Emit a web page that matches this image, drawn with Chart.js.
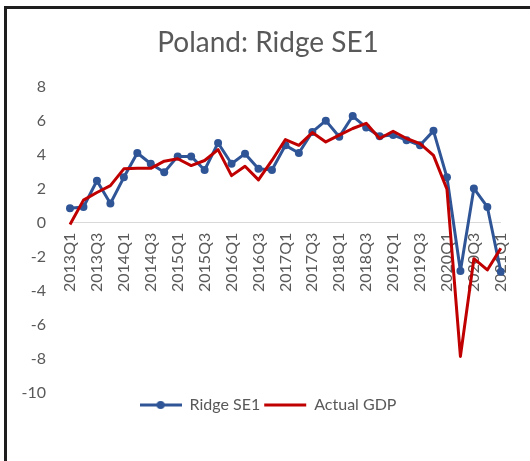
<!DOCTYPE html>
<html>
<head>
<meta charset="utf-8">
<script src="https://cdn.jsdelivr.net/npm/chart.js@4/dist/chart.umd.min.js"></script>
<style>
  body { margin: 0; background: #fff; }
  #wrap { position: relative; width: 530px; height: 461px; }
  #frame {
    position: absolute; left: 4px; top: 6px; right: 0; bottom: 0;
    border-left: 3px solid #1e1e1e; border-top: 3px solid #1e1e1e;
    pointer-events: none;
  }
</style>
</head>
<body>
<div id="wrap">
  <canvas id="chart" width="530" height="461"></canvas>
  <div id="frame"></div>
</div>
<script>
const quarters = [
  '2013Q1', '2013Q2', '2013Q3', '2013Q4',
  '2014Q1', '2014Q2', '2014Q3', '2014Q4',
  '2015Q1', '2015Q2', '2015Q3', '2015Q4',
  '2016Q1', '2016Q2', '2016Q3', '2016Q4',
  '2017Q1', '2017Q2', '2017Q3', '2017Q4',
  '2018Q1', '2018Q2', '2018Q3', '2018Q4',
  '2019Q1', '2019Q2', '2019Q3', '2019Q4',
  '2020Q1', '2020Q2', '2020Q3', '2020Q4',
  '2021Q1'
];

const ridgeSE1 = [
  0.85, 0.93, 2.47, 1.13,
  2.67, 4.1, 3.47, 2.97,
  3.9, 3.9, 3.1, 4.69,
  3.47, 4.06, 3.17, 3.1,
  4.55, 4.1, 5.34, 6.0,
  5.05, 6.27, 5.6, 5.09,
  5.15, 4.85, 4.55, 5.4,
  2.67, -2.83, 2.02, 0.93,
  -2.87
];

const actualGDP = [
  -0.1, 1.33, 1.78, 2.18,
  3.17, 3.2, 3.2, 3.62,
  3.76, 3.36, 3.66, 4.3,
  2.77, 3.32, 2.52, 3.66,
  4.89, 4.55, 5.3, 4.75,
  5.15, 5.54, 5.84, 4.95,
  5.38, 4.95, 4.65, 3.96,
  1.98, -7.85, -2.11, -2.77,
  -1.5
];

const blue = '#2f5597';
const red = '#c00000';
const grey = '#595959';

// legend marker: line with a dot in the middle
const blueMarker = document.createElement('canvas');
blueMarker.width = 42;
blueMarker.height = 10;
const mctx = blueMarker.getContext('2d');
mctx.strokeStyle = blue;
mctx.lineWidth = 3;
mctx.beginPath();
mctx.moveTo(0, 5);
mctx.lineTo(42, 5);
mctx.stroke();
mctx.fillStyle = blue;
mctx.beginPath();
mctx.arc(21, 5, 4, 0, Math.PI * 2);
mctx.fill();

const ctx = document.getElementById('chart').getContext('2d');

new Chart(ctx, {
  type: 'line',
  data: {
    labels: quarters,
    datasets: [
      {
        label: 'Ridge SE1',
        data: ridgeSE1,
        borderColor: blue,
        backgroundColor: blue,
        borderWidth: 3,
        borderJoinStyle: 'round',
        pointRadius: 4,
        pointBorderWidth: 0,
        tension: 0,
        order: 1,
      },
      {
        label: 'Actual GDP',
        data: actualGDP,
        borderColor: red,
        backgroundColor: red,
        borderWidth: 3,
        borderJoinStyle: 'round',
        pointRadius: 0,
        tension: 0,
        order: 0,
      },
    ],
  },
  options: {
    responsive: false,
    animation: false,
    layout: { padding: { left: 6, right: 0, top: 0, bottom: 38 } },
    plugins: {
      tooltip: { enabled: false },
      title: {
        display: true,
        text: 'Poland: Ridge SE1',
        color: grey,
        font: { family: 'Lato', size: 28, weight: 'normal', lineHeight: 1.2 },
        padding: { top: 26, bottom: 27 },
      },
      legend: {
        position: 'bottom',
        labels: {
          usePointStyle: true,
          pointStyleWidth: 42,
          padding: 4,
          color: grey,
          font: { family: 'Lato', size: 16 },
          generateLabels(chart) {
            return chart.data.datasets.map((ds, i) => ({
              text: ds.label,
              datasetIndex: i,
              fontColor: grey,
              pointStyle: i === 0 ? blueMarker : 'line',
              strokeStyle: ds.borderColor,
              fillStyle: ds.borderColor,
              lineWidth: 3,
              hidden: false,
            }));
          },
        },
      },
    },
    scales: {
      x: {
        position: { y: 0 },
        grid: { display: false, drawTicks: false },
        border: { display: true, color: '#d9d9d9', width: 1 },
        ticks: {
          autoSkip: false,
          minRotation: 90,
          maxRotation: 90,
          padding: 10,
          color: grey,
          font: { family: 'Lato', size: 16 },
          callback(value, index) {
            return index % 2 === 0 ? quarters[index] : '';
          },
        },
      },
      y: {
        min: -10,
        max: 8,
        grid: { display: false, drawTicks: false },
        border: { display: false },
        ticks: {
          stepSize: 2,
          padding: 24,
          color: grey,
          font: { family: 'Lato', size: 16 },
        },
        afterFit(scale) {
          scale.width = 64;
        },
      },
      // empty right-hand margin so the title and legend stay centred on the frame
      yRight: {
        position: 'right',
        min: -10,
        max: 8,
        grid: { display: false, drawTicks: false },
        border: { display: false },
        ticks: { display: false },
        afterFit(scale) {
          scale.width = 27;
        },
      },
    },
  },
});
</script>
</body>
</html>
